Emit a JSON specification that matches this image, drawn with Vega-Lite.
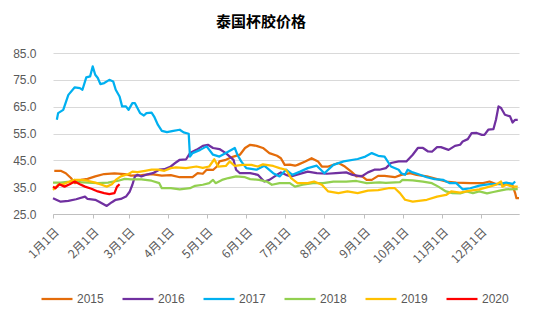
{
  "$schema": "https://vega.github.io/schema/vega-lite/v6.json",
  "width": 466,
  "height": 161,
  "autosize": {"type": "none"},
  "padding": {"left": 53, "top": 53, "right": 31, "bottom": 107},
  "background": "white",
  "title": {"text": "泰国杯胶价格", "font": "Noto Sans CJK SC", "fontSize": 15, "fontWeight": "bold", "color": "#000000", "anchor": "middle", "dx": -25, "offset": 17},
  "data": {"values": [
    {"year":"2015","day":"2019-01-02","price":41.1},{"year":"2015","day":"2019-01-07","price":41.1},{"year":"2015","day":"2019-01-11","price":40.2},{"year":"2015","day":"2019-01-15","price":38.4},{"year":"2015","day":"2019-01-18","price":36.5},{"year":"2015","day":"2019-01-23","price":37.7},{"year":"2015","day":"2019-01-28","price":38.1},{"year":"2015","day":"2019-02-03","price":39.0},{"year":"2015","day":"2019-02-10","price":39.9},{"year":"2015","day":"2019-02-18","price":40.1},{"year":"2015","day":"2019-02-26","price":39.9},{"year":"2015","day":"2019-03-03","price":39.3},{"year":"2015","day":"2019-03-11","price":39.5},{"year":"2015","day":"2019-03-19","price":39.9},{"year":"2015","day":"2019-03-27","price":39.3},{"year":"2015","day":"2019-04-03","price":39.5},{"year":"2015","day":"2019-04-10","price":38.7},{"year":"2015","day":"2019-04-20","price":38.7},{"year":"2015","day":"2019-04-24","price":40.2},{"year":"2015","day":"2019-04-28","price":40.0},{"year":"2015","day":"2019-05-01","price":41.5},{"year":"2015","day":"2019-05-06","price":41.4},{"year":"2015","day":"2019-05-09","price":42.7},{"year":"2015","day":"2019-05-11","price":44.6},{"year":"2015","day":"2019-05-16","price":45.2},{"year":"2015","day":"2019-05-22","price":46.4},{"year":"2015","day":"2019-05-27","price":47.1},{"year":"2015","day":"2019-05-31","price":49.6},{"year":"2015","day":"2019-06-04","price":50.8},{"year":"2015","day":"2019-06-09","price":50.4},{"year":"2015","day":"2019-06-14","price":49.6},{"year":"2015","day":"2019-06-19","price":47.7},{"year":"2015","day":"2019-06-25","price":46.7},{"year":"2015","day":"2019-06-28","price":45.8},{"year":"2015","day":"2019-07-01","price":43.3},{"year":"2015","day":"2019-07-05","price":43.4},{"year":"2015","day":"2019-07-09","price":43.0},{"year":"2015","day":"2019-07-11","price":43.3},{"year":"2015","day":"2019-07-17","price":44.6},{"year":"2015","day":"2019-07-22","price":45.8},{"year":"2015","day":"2019-07-27","price":44.6},{"year":"2015","day":"2019-07-30","price":42.7},{"year":"2015","day":"2019-08-04","price":42.7},{"year":"2015","day":"2019-08-12","price":44.0},{"year":"2015","day":"2019-08-17","price":42.7},{"year":"2015","day":"2019-08-22","price":40.8},{"year":"2015","day":"2019-08-26","price":39.0},{"year":"2015","day":"2019-08-30","price":39.2},{"year":"2015","day":"2019-09-03","price":37.7},{"year":"2015","day":"2019-09-07","price":37.7},{"year":"2015","day":"2019-09-12","price":39.2},{"year":"2015","day":"2019-09-17","price":39.2},{"year":"2015","day":"2019-09-25","price":38.7},{"year":"2015","day":"2019-09-30","price":39.6},{"year":"2015","day":"2019-10-07","price":40.2},{"year":"2015","day":"2019-10-12","price":39.6},{"year":"2015","day":"2019-10-20","price":39.0},{"year":"2015","day":"2019-10-28","price":38.0},{"year":"2015","day":"2019-11-04","price":37.1},{"year":"2015","day":"2019-11-12","price":36.7},{"year":"2015","day":"2019-11-23","price":36.5},{"year":"2015","day":"2019-12-03","price":36.5},{"year":"2015","day":"2019-12-08","price":37.1},{"year":"2015","day":"2019-12-13","price":36.2},{"year":"2015","day":"2019-12-21","price":35.9},{"year":"2015","day":"2019-12-26","price":35.6},{"year":"2015","day":"2019-12-28","price":32.8},{"year":"2015","day":"2019-12-29","price":30.9},{"year":"2015","day":"2019-12-31","price":30.9},
    {"year":"2016","day":"2019-01-01","price":30.9},{"year":"2016","day":"2019-01-07","price":29.6},{"year":"2016","day":"2019-01-13","price":29.9},{"year":"2016","day":"2019-01-19","price":30.5},{"year":"2016","day":"2019-01-26","price":31.5},{"year":"2016","day":"2019-01-28","price":30.6},{"year":"2016","day":"2019-02-03","price":30.3},{"year":"2016","day":"2019-02-06","price":29.6},{"year":"2016","day":"2019-02-12","price":28.0},{"year":"2016","day":"2019-02-16","price":29.4},{"year":"2016","day":"2019-02-19","price":30.3},{"year":"2016","day":"2019-02-23","price":30.6},{"year":"2016","day":"2019-02-27","price":31.5},{"year":"2016","day":"2019-03-02","price":33.4},{"year":"2016","day":"2019-03-04","price":35.9},{"year":"2016","day":"2019-03-06","price":39.0},{"year":"2016","day":"2019-03-08","price":39.6},{"year":"2016","day":"2019-03-11","price":39.0},{"year":"2016","day":"2019-03-16","price":39.8},{"year":"2016","day":"2019-03-20","price":40.2},{"year":"2016","day":"2019-03-25","price":41.5},{"year":"2016","day":"2019-03-29","price":41.7},{"year":"2016","day":"2019-04-03","price":42.7},{"year":"2016","day":"2019-04-07","price":44.2},{"year":"2016","day":"2019-04-10","price":45.2},{"year":"2016","day":"2019-04-15","price":45.4},{"year":"2016","day":"2019-04-18","price":47.7},{"year":"2016","day":"2019-04-23","price":48.9},{"year":"2016","day":"2019-04-28","price":50.4},{"year":"2016","day":"2019-05-02","price":50.8},{"year":"2016","day":"2019-05-06","price":49.6},{"year":"2016","day":"2019-05-11","price":49.2},{"year":"2016","day":"2019-05-16","price":47.7},{"year":"2016","day":"2019-05-22","price":45.2},{"year":"2016","day":"2019-05-24","price":41.5},{"year":"2016","day":"2019-05-27","price":40.2},{"year":"2016","day":"2019-06-04","price":40.2},{"year":"2016","day":"2019-06-10","price":39.6},{"year":"2016","day":"2019-06-15","price":37.1},{"year":"2016","day":"2019-06-19","price":37.7},{"year":"2016","day":"2019-06-25","price":39.6},{"year":"2016","day":"2019-06-28","price":40.5},{"year":"2016","day":"2019-07-02","price":39.6},{"year":"2016","day":"2019-07-06","price":39.0},{"year":"2016","day":"2019-07-10","price":39.6},{"year":"2016","day":"2019-07-19","price":40.8},{"year":"2016","day":"2019-07-26","price":40.2},{"year":"2016","day":"2019-08-03","price":40.0},{"year":"2016","day":"2019-08-10","price":40.2},{"year":"2016","day":"2019-08-18","price":40.5},{"year":"2016","day":"2019-08-23","price":39.6},{"year":"2016","day":"2019-08-30","price":39.0},{"year":"2016","day":"2019-09-04","price":40.5},{"year":"2016","day":"2019-09-09","price":41.5},{"year":"2016","day":"2019-09-13","price":41.5},{"year":"2016","day":"2019-09-18","price":42.1},{"year":"2016","day":"2019-09-22","price":44.0},{"year":"2016","day":"2019-09-28","price":44.6},{"year":"2016","day":"2019-10-04","price":44.6},{"year":"2016","day":"2019-10-09","price":47.1},{"year":"2016","day":"2019-10-13","price":49.6},{"year":"2016","day":"2019-10-17","price":49.6},{"year":"2016","day":"2019-10-21","price":48.3},{"year":"2016","day":"2019-10-24","price":48.2},{"year":"2016","day":"2019-10-28","price":49.9},{"year":"2016","day":"2019-10-31","price":49.9},{"year":"2016","day":"2019-11-06","price":48.9},{"year":"2016","day":"2019-11-11","price":50.4},{"year":"2016","day":"2019-11-15","price":50.8},{"year":"2016","day":"2019-11-17","price":52.0},{"year":"2016","day":"2019-11-21","price":52.9},{"year":"2016","day":"2019-11-24","price":55.1},{"year":"2016","day":"2019-11-28","price":55.2},{"year":"2016","day":"2019-12-02","price":54.5},{"year":"2016","day":"2019-12-04","price":54.5},{"year":"2016","day":"2019-12-07","price":56.4},{"year":"2016","day":"2019-12-11","price":56.6},{"year":"2016","day":"2019-12-13","price":60.1},{"year":"2016","day":"2019-12-15","price":65.1},{"year":"2016","day":"2019-12-17","price":64.5},{"year":"2016","day":"2019-12-20","price":62.0},{"year":"2016","day":"2019-12-24","price":61.4},{"year":"2016","day":"2019-12-26","price":59.1},{"year":"2016","day":"2019-12-28","price":60.1},{"year":"2016","day":"2019-12-30","price":60.1},
    {"year":"2017","day":"2019-01-04","price":60.1},{"year":"2017","day":"2019-01-05","price":62.6},{"year":"2017","day":"2019-01-09","price":63.8},{"year":"2017","day":"2019-01-13","price":69.4},{"year":"2017","day":"2019-01-18","price":72.2},{"year":"2017","day":"2019-01-22","price":71.9},{"year":"2017","day":"2019-01-24","price":71.3},{"year":"2017","day":"2019-01-27","price":75.9},{"year":"2017","day":"2019-01-30","price":76.3},{"year":"2017","day":"2019-02-01","price":80.0},{"year":"2017","day":"2019-02-03","price":76.9},{"year":"2017","day":"2019-02-05","price":75.7},{"year":"2017","day":"2019-02-07","price":73.4},{"year":"2017","day":"2019-02-10","price":73.8},{"year":"2017","day":"2019-02-14","price":75.0},{"year":"2017","day":"2019-02-17","price":74.4},{"year":"2017","day":"2019-02-19","price":71.3},{"year":"2017","day":"2019-02-22","price":68.8},{"year":"2017","day":"2019-02-24","price":65.1},{"year":"2017","day":"2019-02-27","price":65.1},{"year":"2017","day":"2019-03-01","price":63.8},{"year":"2017","day":"2019-03-04","price":66.3},{"year":"2017","day":"2019-03-06","price":66.3},{"year":"2017","day":"2019-03-10","price":62.6},{"year":"2017","day":"2019-03-13","price":61.7},{"year":"2017","day":"2019-03-15","price":62.6},{"year":"2017","day":"2019-03-19","price":62.8},{"year":"2017","day":"2019-03-21","price":61.3},{"year":"2017","day":"2019-03-24","price":58.2},{"year":"2017","day":"2019-03-27","price":56.0},{"year":"2017","day":"2019-03-31","price":55.5},{"year":"2017","day":"2019-04-05","price":56.0},{"year":"2017","day":"2019-04-10","price":56.4},{"year":"2017","day":"2019-04-13","price":55.4},{"year":"2017","day":"2019-04-17","price":54.9},{"year":"2017","day":"2019-04-18","price":46.4},{"year":"2017","day":"2019-04-20","price":47.7},{"year":"2017","day":"2019-04-26","price":48.9},{"year":"2017","day":"2019-05-01","price":50.2},{"year":"2017","day":"2019-05-06","price":47.1},{"year":"2017","day":"2019-05-11","price":46.4},{"year":"2017","day":"2019-05-16","price":47.7},{"year":"2017","day":"2019-05-23","price":49.6},{"year":"2017","day":"2019-05-25","price":47.1},{"year":"2017","day":"2019-05-28","price":44.6},{"year":"2017","day":"2019-06-01","price":42.1},{"year":"2017","day":"2019-06-09","price":41.5},{"year":"2017","day":"2019-06-15","price":43.0},{"year":"2017","day":"2019-06-22","price":40.2},{"year":"2017","day":"2019-06-27","price":39.0},{"year":"2017","day":"2019-07-02","price":41.5},{"year":"2017","day":"2019-07-07","price":39.6},{"year":"2017","day":"2019-07-13","price":40.8},{"year":"2017","day":"2019-07-19","price":42.1},{"year":"2017","day":"2019-07-26","price":43.0},{"year":"2017","day":"2019-08-01","price":40.2},{"year":"2017","day":"2019-08-08","price":43.3},{"year":"2017","day":"2019-08-16","price":44.6},{"year":"2017","day":"2019-08-27","price":45.5},{"year":"2017","day":"2019-09-02","price":46.4},{"year":"2017","day":"2019-09-07","price":47.7},{"year":"2017","day":"2019-09-12","price":46.7},{"year":"2017","day":"2019-09-17","price":46.4},{"year":"2017","day":"2019-09-22","price":42.7},{"year":"2017","day":"2019-09-28","price":41.5},{"year":"2017","day":"2019-09-30","price":40.2},{"year":"2017","day":"2019-10-03","price":39.6},{"year":"2017","day":"2019-10-05","price":41.5},{"year":"2017","day":"2019-10-09","price":40.5},{"year":"2017","day":"2019-10-13","price":39.9},{"year":"2017","day":"2019-10-20","price":38.7},{"year":"2017","day":"2019-10-26","price":38.0},{"year":"2017","day":"2019-11-02","price":37.7},{"year":"2017","day":"2019-11-07","price":36.5},{"year":"2017","day":"2019-11-12","price":36.5},{"year":"2017","day":"2019-11-17","price":34.2},{"year":"2017","day":"2019-11-23","price":34.6},{"year":"2017","day":"2019-11-30","price":35.6},{"year":"2017","day":"2019-12-08","price":36.1},{"year":"2017","day":"2019-12-16","price":36.2},{"year":"2017","day":"2019-12-21","price":36.7},{"year":"2017","day":"2019-12-26","price":36.2},{"year":"2017","day":"2019-12-28","price":37.1},
    {"year":"2018","day":"2019-01-01","price":36.7},{"year":"2018","day":"2019-01-07","price":36.7},{"year":"2018","day":"2019-01-14","price":37.1},{"year":"2018","day":"2019-01-18","price":37.7},{"year":"2018","day":"2019-01-21","price":36.9},{"year":"2018","day":"2019-01-28","price":36.7},{"year":"2018","day":"2019-02-05","price":36.5},{"year":"2018","day":"2019-02-13","price":36.7},{"year":"2018","day":"2019-02-21","price":37.4},{"year":"2018","day":"2019-02-26","price":38.1},{"year":"2018","day":"2019-03-03","price":37.9},{"year":"2018","day":"2019-03-11","price":37.9},{"year":"2018","day":"2019-03-19","price":37.4},{"year":"2018","day":"2019-03-25","price":36.5},{"year":"2018","day":"2019-03-27","price":34.6},{"year":"2018","day":"2019-04-03","price":34.6},{"year":"2018","day":"2019-04-10","price":34.2},{"year":"2018","day":"2019-04-18","price":34.6},{"year":"2018","day":"2019-04-22","price":35.5},{"year":"2018","day":"2019-04-28","price":35.9},{"year":"2018","day":"2019-05-03","price":36.5},{"year":"2018","day":"2019-05-06","price":37.7},{"year":"2018","day":"2019-05-08","price":36.5},{"year":"2018","day":"2019-05-13","price":37.7},{"year":"2018","day":"2019-05-18","price":38.4},{"year":"2018","day":"2019-05-24","price":39.0},{"year":"2018","day":"2019-05-31","price":38.7},{"year":"2018","day":"2019-06-04","price":38.0},{"year":"2018","day":"2019-06-11","price":37.7},{"year":"2018","day":"2019-06-17","price":37.1},{"year":"2018","day":"2019-06-21","price":35.9},{"year":"2018","day":"2019-06-27","price":36.5},{"year":"2018","day":"2019-07-05","price":36.5},{"year":"2018","day":"2019-07-09","price":35.2},{"year":"2018","day":"2019-07-15","price":35.9},{"year":"2018","day":"2019-07-23","price":36.5},{"year":"2018","day":"2019-07-31","price":36.5},{"year":"2018","day":"2019-08-08","price":37.1},{"year":"2018","day":"2019-08-18","price":37.1},{"year":"2018","day":"2019-08-26","price":37.3},{"year":"2018","day":"2019-09-03","price":36.5},{"year":"2018","day":"2019-09-13","price":36.8},{"year":"2018","day":"2019-09-18","price":36.6},{"year":"2018","day":"2019-09-29","price":36.9},{"year":"2018","day":"2019-10-01","price":37.7},{"year":"2018","day":"2019-10-09","price":37.5},{"year":"2018","day":"2019-10-17","price":37.1},{"year":"2018","day":"2019-10-24","price":36.5},{"year":"2018","day":"2019-10-29","price":35.2},{"year":"2018","day":"2019-11-04","price":33.4},{"year":"2018","day":"2019-11-09","price":32.8},{"year":"2018","day":"2019-11-15","price":32.7},{"year":"2018","day":"2019-11-20","price":33.4},{"year":"2018","day":"2019-11-25","price":32.8},{"year":"2018","day":"2019-11-30","price":33.4},{"year":"2018","day":"2019-12-06","price":32.7},{"year":"2018","day":"2019-12-11","price":33.2},{"year":"2018","day":"2019-12-16","price":33.7},{"year":"2018","day":"2019-12-21","price":34.2},{"year":"2018","day":"2019-12-30","price":34.3},
    {"year":"2019","day":"2019-01-01","price":34.0},{"year":"2019","day":"2019-01-05","price":35.9},{"year":"2019","day":"2019-01-09","price":36.1},{"year":"2019","day":"2019-01-13","price":36.9},{"year":"2019","day":"2019-01-18","price":37.7},{"year":"2019","day":"2019-01-23","price":37.7},{"year":"2019","day":"2019-01-28","price":37.4},{"year":"2019","day":"2019-02-03","price":36.7},{"year":"2019","day":"2019-02-08","price":35.9},{"year":"2019","day":"2019-02-12","price":35.2},{"year":"2019","day":"2019-02-16","price":36.1},{"year":"2019","day":"2019-02-19","price":37.7},{"year":"2019","day":"2019-02-23","price":39.0},{"year":"2019","day":"2019-03-01","price":39.9},{"year":"2019","day":"2019-03-04","price":40.8},{"year":"2019","day":"2019-03-08","price":40.6},{"year":"2019","day":"2019-03-14","price":41.1},{"year":"2019","day":"2019-03-19","price":41.5},{"year":"2019","day":"2019-03-24","price":41.5},{"year":"2019","day":"2019-03-29","price":41.1},{"year":"2019","day":"2019-04-03","price":42.1},{"year":"2019","day":"2019-04-07","price":42.4},{"year":"2019","day":"2019-04-15","price":42.1},{"year":"2019","day":"2019-04-23","price":42.7},{"year":"2019","day":"2019-04-28","price":42.2},{"year":"2019","day":"2019-05-03","price":42.7},{"year":"2019","day":"2019-05-07","price":45.4},{"year":"2019","day":"2019-05-10","price":42.7},{"year":"2019","day":"2019-05-16","price":42.9},{"year":"2019","day":"2019-05-19","price":44.6},{"year":"2019","day":"2019-05-23","price":42.9},{"year":"2019","day":"2019-05-29","price":43.3},{"year":"2019","day":"2019-06-05","price":43.3},{"year":"2019","day":"2019-06-10","price":42.7},{"year":"2019","day":"2019-06-14","price":43.5},{"year":"2019","day":"2019-06-22","price":42.9},{"year":"2019","day":"2019-06-27","price":42.1},{"year":"2019","day":"2019-07-02","price":41.5},{"year":"2019","day":"2019-07-06","price":38.4},{"year":"2019","day":"2019-07-11","price":36.5},{"year":"2019","day":"2019-07-19","price":36.5},{"year":"2019","day":"2019-07-24","price":37.1},{"year":"2019","day":"2019-07-30","price":35.9},{"year":"2019","day":"2019-08-04","price":33.4},{"year":"2019","day":"2019-08-12","price":32.8},{"year":"2019","day":"2019-08-19","price":33.4},{"year":"2019","day":"2019-08-27","price":32.8},{"year":"2019","day":"2019-09-04","price":33.7},{"year":"2019","day":"2019-09-12","price":33.9},{"year":"2019","day":"2019-09-20","price":34.6},{"year":"2019","day":"2019-09-25","price":34.6},{"year":"2019","day":"2019-09-29","price":32.8},{"year":"2019","day":"2019-10-03","price":30.3},{"year":"2019","day":"2019-10-09","price":29.6},{"year":"2019","day":"2019-10-20","price":30.3},{"year":"2019","day":"2019-10-28","price":31.5},{"year":"2019","day":"2019-11-04","price":32.1},{"year":"2019","day":"2019-11-08","price":33.4},{"year":"2019","day":"2019-11-15","price":33.0},{"year":"2019","day":"2019-11-23","price":33.7},{"year":"2019","day":"2019-11-30","price":34.2},{"year":"2019","day":"2019-12-08","price":35.2},{"year":"2019","day":"2019-12-13","price":35.9},{"year":"2019","day":"2019-12-17","price":37.1},{"year":"2019","day":"2019-12-18","price":35.2},{"year":"2019","day":"2019-12-21","price":35.9},{"year":"2019","day":"2019-12-26","price":35.2},{"year":"2019","day":"2019-12-30","price":35.2},
    {"year":"2020","day":"2019-01-01","price":35.2},{"year":"2020","day":"2019-01-03","price":34.6},{"year":"2020","day":"2019-01-06","price":36.1},{"year":"2020","day":"2019-01-10","price":35.2},{"year":"2020","day":"2019-01-14","price":36.1},{"year":"2020","day":"2019-01-18","price":37.1},{"year":"2020","day":"2019-01-22","price":36.1},{"year":"2020","day":"2019-01-26","price":35.2},{"year":"2020","day":"2019-01-31","price":34.4},{"year":"2020","day":"2019-02-05","price":33.4},{"year":"2020","day":"2019-02-10","price":32.8},{"year":"2020","day":"2019-02-14","price":32.4},{"year":"2020","day":"2019-02-18","price":32.8},{"year":"2020","day":"2019-02-20","price":35.2},{"year":"2020","day":"2019-02-22","price":36.1}
  ]},
  "mark": {"type": "line", "interpolate": "linear", "strokeJoin": "round"},
  "encoding": {
    "x": {
      "field": "day", "type": "temporal",
      "scale": {"type": "utc", "domain": [{"year": 2019, "month": 1, "date": 1, "utc": true}, {"year": 2019, "month": 12, "date": 31, "utc": true}]},
      "axis": {"title": null, "format": "%-m月%-d日", "tickCount": {"interval": "month", "step": 1}, "labelAngle": -45, "labelFont": "Noto Sans CJK SC", "labelFontSize": 12, "labelColor": "#595959", "grid": false, "domainColor": "#BFBFBF", "tickColor": "#BFBFBF", "tickSize": 4, "labelPadding": 8, "labelOverlap": false, "labelFlush": false}
    },
    "y": {
      "field": "price", "type": "quantitative",
      "scale": {"domain": [25, 85], "nice": false, "zero": false},
      "axis": {"title": null, "values": [25, 35, 45, 55, 65, 75, 85], "format": ".1f", "labelFont": "Liberation Sans", "labelFontSize": 12, "labelColor": "#595959", "ticks": false, "domain": false, "gridColor": "#D9D9D9", "labelPadding": 17}
    },
    "color": {
      "field": "year", "type": "nominal",
      "scale": {"domain": ["2015", "2016", "2017", "2018", "2019", "2020"], "range": ["#E46C0A", "#7030A0", "#00B0F0", "#92D050", "#FFC000", "#FF0000"]},
      "legend": {"orient": "none", "legendX": -13, "legendY": 229, "direction": "horizontal", "columns": 6, "title": null, "symbolType": "stroke", "symbolSize": 961, "symbolStrokeWidth": 2.5, "labelFont": "Liberation Sans", "labelFontSize": 12, "labelColor": "#595959", "labelOffset": 3, "columnPadding": 14, "padding": 0}
    },
    "strokeWidth": {
      "field": "year", "type": "nominal",
      "scale": {"domain": ["2015", "2016", "2017", "2018", "2019", "2020"], "range": [2.25, 2.25, 2.25, 2.25, 2.75, 3.5]},
      "legend": null
    }
  },
  "config": {"view": {"stroke": null}}
}
